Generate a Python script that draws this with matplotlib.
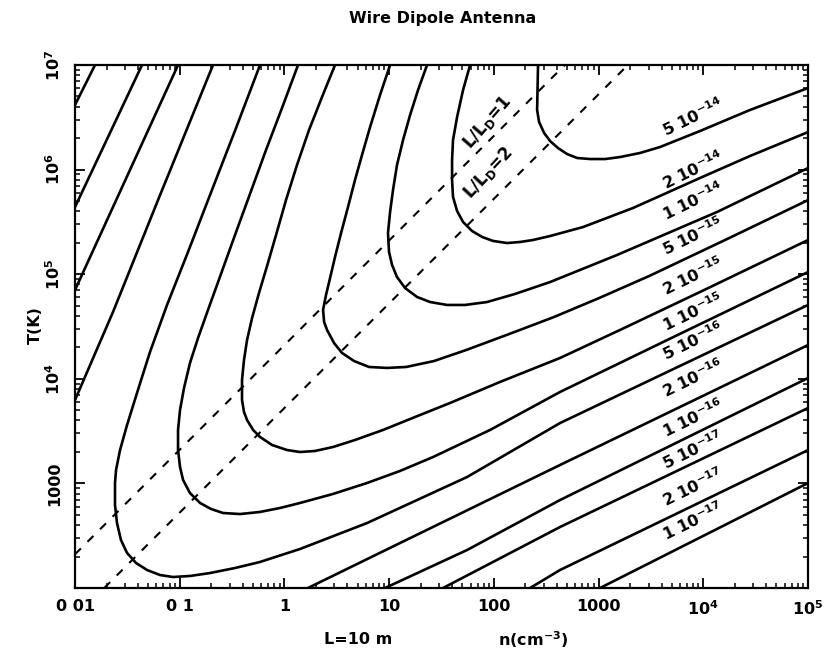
import numpy as np
import matplotlib
matplotlib.use('Agg')
import matplotlib.pyplot as plt
from matplotlib.ticker import LogLocator, NullFormatter

plt.rcParams['font.family'] = ['DejaVu Sans']
plt.rcParams['font.weight'] = 'bold'
plt.rcParams['mathtext.default'] = 'bf'

# ---- data (log10 n [cm^-3], log10 T [K]) ----
# 5e-14
c5e14_logn = [2.422, 2.413, 2.432, 2.480, 2.537, 2.613, 2.699, 2.795, 2.919, 3.062, 3.205, 3.396, 3.587, 3.969, 4.446, 5.001]
c5e14_logT = [7.000, 6.570, 6.455, 6.350, 6.273, 6.206, 6.149, 6.111, 6.101, 6.101, 6.120, 6.159, 6.216, 6.369, 6.570, 6.780]
# 2e-14
c2e14_logn = [1.773, 1.706, 1.649, 1.610, 1.601, 1.601, 1.610, 1.649, 1.706, 1.792, 1.888, 1.992, 2.126, 2.250, 2.374, 2.537, 2.852, 3.329, 3.969, 4.446, 5.001]
c2e14_logT = [7.000, 6.761, 6.503, 6.283, 6.092, 5.900, 5.738, 5.604, 5.499, 5.413, 5.356, 5.318, 5.298, 5.308, 5.327, 5.365, 5.451, 5.633, 5.920, 6.130, 6.359]
# 1e-14
c1e14_logn = [1.362, 1.276, 1.200, 1.133, 1.075, 1.037, 1.009, 0.989, 0.999, 1.028, 1.075, 1.152, 1.267, 1.391, 1.553, 1.725, 1.935, 2.202, 2.537, 3.177, 4.132, 5.001]
c1e14_logT = [7.000, 6.761, 6.522, 6.283, 6.044, 5.805, 5.595, 5.394, 5.212, 5.088, 4.973, 4.868, 4.782, 4.734, 4.706, 4.706, 4.734, 4.811, 4.925, 5.184, 5.595, 6.015]
# 5e-15
c5e15_logn = [1.009, 0.913, 0.818, 0.741, 0.674, 0.607, 0.541, 0.483, 0.436, 0.397, 0.369, 0.379, 0.407, 0.474, 0.550, 0.665, 0.808, 0.980, 1.162, 1.429, 1.735, 2.146, 2.575, 3.005, 3.482, 4.246, 5.001]
c5e15_logT = [7.000, 6.713, 6.407, 6.140, 5.901, 5.642, 5.394, 5.164, 4.964, 4.801, 4.658, 4.543, 4.467, 4.342, 4.247, 4.170, 4.113, 4.104, 4.113, 4.170, 4.275, 4.428, 4.591, 4.772, 4.982, 5.345, 5.709]
# 2e-15
c2e15_logn = [0.483, 0.359, 0.235, 0.120, 0.015, -0.080, -0.166, -0.243, -0.309, -0.357, -0.386, -0.405, -0.405, -0.386, -0.357, -0.299, -0.233, -0.118, 0.025, 0.149, 0.293, 0.464, 0.674, 0.942, 1.248, 1.582, 2.059, 2.632, 3.205, 3.969, 5.001]
c2e15_logT = [7.000, 6.694, 6.379, 6.044, 5.709, 5.375, 5.078, 4.820, 4.581, 4.371, 4.180, 3.989, 3.797, 3.683, 3.606, 3.511, 3.444, 3.367, 3.319, 3.300, 3.310, 3.348, 3.415, 3.511, 3.635, 3.769, 3.970, 4.199, 4.467, 4.830, 5.327]
# 1e-15
c1e15_logn = [0.130, -0.023, -0.176, -0.329, -0.472, -0.606, -0.730, -0.825, -0.902, -0.959, -0.997, -1.016, -1.016, -0.997, -0.968, -0.902, -0.806, -0.700, -0.586, -0.424, -0.233, -0.042, 0.149, 0.464, 0.789, 1.104, 1.419, 1.964, 2.632, 3.817, 5.001]
c1e15_logT = [7.000, 6.589, 6.187, 5.767, 5.375, 5.002, 4.658, 4.390, 4.151, 3.912, 3.702, 3.511, 3.319, 3.157, 3.033, 2.908, 2.813, 2.755, 2.717, 2.707, 2.727, 2.765, 2.813, 2.899, 3.004, 3.119, 3.252, 3.511, 3.874, 4.449, 5.021]
# 5e-16
c5e16_logn = [-0.233, -0.462, -0.692, -0.921, -1.121, -1.284, -1.408, -1.503, -1.570, -1.608, -1.618, -1.618, -1.599, -1.561, -1.503, -1.417, -1.312, -1.188, -1.064, -0.902, -0.711, -0.472, -0.233, 0.149, 0.789, 1.744, 2.632, 3.817, 5.001]
c5e16_logT = [7.000, 6.398, 5.805, 5.212, 4.706, 4.256, 3.864, 3.558, 3.319, 3.128, 3.004, 2.794, 2.621, 2.459, 2.335, 2.239, 2.172, 2.124, 2.105, 2.115, 2.143, 2.191, 2.249, 2.373, 2.621, 3.061, 3.577, 4.142, 4.706]
# 2e-16 (two pieces)
c2e16a_logn = [-0.682, -1.207, -1.637, -2.000]
c2e16a_logT = [7.000, 5.709, 4.639, 3.797]
c2e16b_logn = [0.225, 1.104, 2.632, 5.001]
c2e16b_logT = [2.000, 2.430, 3.176, 4.323]
# 1e-16
c1e16a_logn = [-1.016, -1.532, -2.000]
c1e16a_logT = [7.000, 5.872, 4.849]
c1e16b_logn = [0.961, 1.744, 2.632, 5.001]
c1e16b_logT = [2.000, 2.363, 2.841, 4.008]
# 5e-17
c5e17a_logn = [-1.360, -2.000]
c5e17a_logT = [7.000, 5.642]
c5e17b_logn = [1.515, 2.632, 5.001]
c5e17b_logT = [2.000, 2.583, 3.721]
# 2e-17
c2e17a_logn = [-1.809, -2.000]
c2e17a_logT = [7.000, 6.618]
c2e17b_logn = [2.346, 2.632, 5.001]
c2e17b_logT = [2.000, 2.172, 3.319]
# 1e-17
c1e17_logn = [3.014, 5.001]
c1e17_logT = [2.000, 3.004]

curves = [
    (c5e14_logn, c5e14_logT), (c2e14_logn, c2e14_logT), (c1e14_logn, c1e14_logT),
    (c5e15_logn, c5e15_logT), (c2e15_logn, c2e15_logT), (c1e15_logn, c1e15_logT),
    (c5e16_logn, c5e16_logT), (c2e16a_logn, c2e16a_logT), (c2e16b_logn, c2e16b_logT),
    (c1e16a_logn, c1e16a_logT), (c1e16b_logn, c1e16b_logT),
    (c5e17a_logn, c5e17a_logT), (c5e17b_logn, c5e17b_logT),
    (c2e17a_logn, c2e17a_logT), (c2e17b_logn, c2e17b_logT),
    (c1e17_logn, c1e17_logT),
]

level_labels = [r'5 10$^{-14}$', r'2 10$^{-14}$', r'1 10$^{-14}$',
                r'5 10$^{-15}$', r'2 10$^{-15}$', r'1 10$^{-15}$',
                r'5 10$^{-16}$', r'2 10$^{-16}$', r'1 10$^{-16}$',
                r'5 10$^{-17}$', r'2 10$^{-17}$', r'1 10$^{-17}$']
label_logn = 3.903
label_logT = [6.503, 5.996, 5.700, 5.365, 4.983, 4.639, 4.361, 4.008, 3.625, 3.319, 2.966, 2.641]

# L/L_D = 1 and L/L_D = 2 lines (end points)
ld1_n = [0.01, 476.0]
ld1_T = [210.0, 1e7]
ld2_n = [0.019, 1905.0]
ld2_T = [100.0, 1e7]

x_ticks = [0.01, 0.1, 1, 10, 100, 1000, 1e4, 1e5]
x_ticklabels = ['0 01', '0 1', '1', '10', '100', '1000', r'10$^4$', r'10$^5$']
y_ticks = [1000, 1e4, 1e5, 1e6, 1e7]
y_ticklabels = ['1000', r'10$^4$', r'10$^5$', r'10$^6$', r'10$^7$']

# ---- figure ----
fig = plt.figure(figsize=(8.27, 6.6), dpi=100)
ax = fig.add_axes([75/827, 72/660, 733/827, 523/660])
ax.set_xscale('log')
ax.set_yscale('log')
ax.set_xlim(0.01, 1e5)
ax.set_ylim(100, 1e7)

for ln, lt in curves:
    ax.plot(10**np.array(ln), 10**np.array(lt), color='black', lw=1.9,
            solid_joinstyle='round', solid_capstyle='round')

ax.plot(ld1_n, ld1_T, color='black', lw=1.5, ls=(0, (4, 4.5)))
ax.plot(ld2_n, ld2_T, color='black', lw=1.5, ls=(0, (4, 4.5)))

for txt, lt in zip(level_labels, label_logT):
    ax.text(10**label_logn, 10**lt, txt, rotation=26, ha='center', va='center',
            fontsize=11.5, fontweight='bold', rotation_mode='anchor')

ax.text(10**1.935, 10**6.455, r'L/L$_D$=1', rotation=49, ha='center', va='center',
        fontsize=12, fontweight='bold', rotation_mode='anchor')
ax.text(10**1.945, 10**5.967, r'L/L$_D$=2', rotation=47, ha='center', va='center',
        fontsize=12, fontweight='bold', rotation_mode='anchor')

ax.set_xticks(x_ticks)
ax.set_xticklabels(x_ticklabels)
ax.set_yticks(y_ticks)
ax.set_yticklabels(y_ticklabels, rotation=90, va='center')
ax.xaxis.set_minor_locator(LogLocator(base=10, subs=np.arange(2, 10), numticks=20))
ax.yaxis.set_minor_locator(LogLocator(base=10, subs=np.arange(2, 10), numticks=20))
ax.xaxis.set_minor_formatter(NullFormatter())
ax.yaxis.set_minor_formatter(NullFormatter())
ax.tick_params(which='both', direction='in', top=True, right=True, labelsize=11.5)
ax.tick_params(which='major', length=7, width=1.3)
ax.tick_params(which='minor', length=3.5, width=1.1)
ax.tick_params(axis='x', pad=8)
ax.tick_params(axis='y', pad=9)
for sp in ax.spines.values():
    sp.set_linewidth(1.6)

fig.text(443/827, 1 - 18/660, 'Wire Dipole Antenna', ha='center', va='center',
         fontsize=11.5, fontweight='bold')
fig.text(35/827, 1 - 325/660, 'T(K)', rotation=90, ha='center', va='center',
         fontsize=11.5, fontweight='bold')
fig.text(358/827, 1 - 640/660, 'L=10 m', ha='center', va='center',
         fontsize=11.5, fontweight='bold')
fig.text(533/827, 1 - 640/660, r'n(cm$^{-3}$)', ha='center', va='center',
         fontsize=11.5, fontweight='bold')

fig.savefig('out.png', dpi=100)
